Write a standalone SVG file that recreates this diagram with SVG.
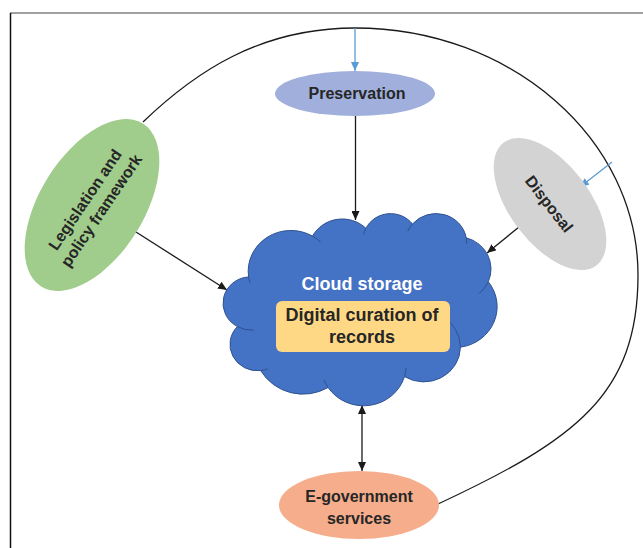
<svg xmlns="http://www.w3.org/2000/svg" width="643" height="548" viewBox="0 0 643 548">
  <defs>
    <marker id="arrow" viewBox="0 0 10 10" refX="10" refY="5" markerWidth="9" markerHeight="8" markerUnits="userSpaceOnUse" orient="auto-start-reverse" preserveAspectRatio="none">
      <path d="M0,0 L10,5 L0,10 z" fill="#1a1a1a"/>
    </marker>
    <marker id="arrow-blue" viewBox="0 0 10 10" refX="10" refY="5" markerWidth="9" markerHeight="8" markerUnits="userSpaceOnUse" orient="auto" preserveAspectRatio="none">
      <path d="M0,0 L10,5 L0,10 z" fill="#5B9BD5"/>
    </marker>
  </defs>
  <style>
    .label { font-family: "Liberation Sans", Arial, sans-serif; font-weight: bold; font-size: 16px; fill: #262626; text-anchor: middle; }
    .big { font-size: 18px; }
    .white { fill: #ffffff; }
    .conn { stroke: #1a1a1a; stroke-width: 1.3; fill: none; }
    .blue { stroke: #5B9BD5; stroke-width: 1.3; fill: none; }
    .cloud { fill: #4472C4; stroke: #2F528F; stroke-width: 1; }
    .fold { fill: none; stroke: #2F528F; stroke-width: 1; }
  </style>

  <rect width="643" height="548" fill="#ffffff"/>

  <!-- frame -->
  <line x1="10" y1="13" x2="643" y2="13" stroke="#808080" stroke-width="1.5"/>
  <line x1="10.5" y1="13" x2="10.5" y2="548" stroke="#111111" stroke-width="1.5"/>

  <!-- connectors -->
  <g id="connectors">
    <path class="conn" d="M143,122 C195,72 260,28 355,28 C511,28 638,139 638,275 C638,395 575,440 438,504"/>
    <line class="blue" x1="355" y1="28" x2="355" y2="71" marker-end="url(#arrow-blue)"/>
    <line class="blue" x1="612" y1="162" x2="580" y2="187" marker-end="url(#arrow-blue)"/>
    <line class="conn" x1="355.5" y1="116" x2="355.5" y2="220" marker-end="url(#arrow)"/>
    <line class="conn" x1="136" y1="232" x2="227" y2="290" marker-end="url(#arrow)"/>
    <line class="conn" x1="521.5" y1="225" x2="487" y2="253" marker-end="url(#arrow)"/>
    <line class="conn" x1="362" y1="405" x2="362" y2="471" marker-start="url(#arrow)" marker-end="url(#arrow)"/>
  </g>

  <!-- central cloud -->
  <g id="cloud-storage">
    <path class="cloud" d="M248.6,276.9 A42.68,40.84 0 0 1 312.5,236.1 A33.70,32.30 0 0 1 365.9,228.3 A27.58,26.42 0 0 1 412.5,224.0 A30.69,29.31 0 0 1 466.2,237.8 A33.70,32.32 0 0 1 488.3,281.7 A42.81,40.98 0 0 1 460.4,347.2 A36.56,34.96 0 0 1 404.5,376.6 A42.67,40.96 0 0 1 328.1,387.5 A48.79,46.86 0 0 1 260.7,370.6 A27.55,26.30 0 0 1 237.4,326.5 A27.46,26.42 0 0 1 248.6,276.9 Z"/>
    <path class="fold" d="M253.4,330.1 A27.46,26.42 0 0 1 237.4,326.5 M267.7,368.9 A27.55,26.30 0 0 1 260.7,370.6 M328.1,387.5 A42.67,40.96 0 0 1 323.9,379.8 M406.1,368.1 A42.67,40.96 0 0 1 404.5,376.6 M439.8,315.5 A36.56,34.96 0 0 1 460.4,347.2 M488.3,281.7 A33.70,32.32 0 0 1 479.1,293.6 M466.2,237.8 A30.69,29.31 0 0 1 466.6,243.4 M407.8,231.2 A30.69,29.31 0 0 1 412.5,224.0 M363.6,234.4 A27.58,26.42 0 0 1 365.9,228.3 M312.5,236.1 A42.68,40.84 0 0 1 320.7,242.1 M250.1,283.2 A42.68,40.84 0 0 1 248.6,276.9"/>
    <text class="label big white" x="362" y="290">Cloud storage</text>
    <rect x="276" y="301" width="174" height="51" rx="6" fill="#FFD885"/>
    <text class="label big" x="362" y="321">Digital curation of</text>
    <text class="label big" x="362" y="343">records</text>
  </g>

  <g id="preservation">
    <ellipse cx="355" cy="93.5" rx="80" ry="22.5" fill="#A0AFDB"/>
    <text class="label" x="357" y="99">Preservation</text>
  </g>

  <g id="legislation">
    <ellipse cx="0" cy="0" rx="96" ry="52" fill="#A1CD8C" transform="translate(92,205) rotate(-58)"/>
    <g transform="translate(93,205) rotate(-56)">
      <text class="label" x="0" y="-4">Legislation and</text>
      <text class="label" x="0" y="15.5">policy framework</text>
    </g>
  </g>

  <g id="disposal">
    <ellipse cx="0" cy="0" rx="77" ry="40" fill="#D3D3D3" transform="translate(550,204) rotate(53)"/>
    <text class="label" x="0" y="5.5" transform="translate(549,204) rotate(52)">Disposal</text>
  </g>

  <g id="e-government">
    <ellipse cx="359" cy="505" rx="80" ry="34" fill="#F5AD8B"/>
    <text class="label" x="359" y="501.5">E-government</text>
    <text class="label" x="359" y="524">services</text>
  </g>
</svg>
